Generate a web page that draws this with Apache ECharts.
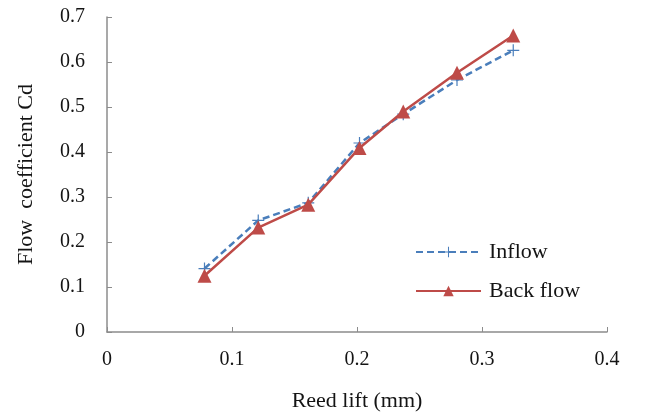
<!DOCTYPE html>
<html>
<head>
<meta charset="utf-8">
<script src="https://cdn.jsdelivr.net/npm/echarts@6/dist/echarts.min.js"></script>
<style>
  html, body { margin: 0; padding: 0; background: #fff; }
  #main { width: 646px; height: 417px; }
</style>
</head>
<body>
<div id="main"></div>
<script>
// reed lift (mm)
var reedLift = [0.078, 0.121, 0.161, 0.202, 0.237, 0.280, 0.325];
var inflowCd = [0.141, 0.248, 0.287, 0.420, 0.484, 0.560, 0.626];
var backflowCd = [0.125, 0.232, 0.283, 0.409, 0.490, 0.576, 0.659];
var xTicks = [0, 0.1, 0.2, 0.3, 0.4];
var yTicks = [0, 0.1, 0.2, 0.3, 0.4, 0.5, 0.6, 0.7];

function pairs(xs, ys) {
    var out = [];
    for (let i = 0; i < xs.length; i++) {
        out.push([xs[i], ys[i]]);
    }
    return out;
}

var plusPath = 'path://M9,0H11V9H20V11H11V20H9V11H0V9H9Z';
var font = 'Liberation Serif';
var axisColor = '#8c8c8c';
var textColor = '#141414';

var myChart = echarts.init(document.getElementById('main'));
var option = {
    animation: false,
    textStyle: { fontFamily: font },
    grid: { left: 107, right: 39, top: 17, bottom: 84 },
    legend: {
        orient: 'vertical',
        left: 415,
        top: 241,
        padding: 0,
        itemWidth: 65,
        itemHeight: 13,
        itemGap: 17,
        textStyle: { fontFamily: font, fontSize: 22, color: textColor, padding: [0, 0, 0, 3] },
        data: ['Inflow', 'Back flow']
    },
    xAxis: {
        type: 'value',
        min: xTicks[0],
        max: xTicks[xTicks.length - 1],
        interval: 0.1,
        name: 'Reed lift (mm)',
        nameLocation: 'middle',
        nameGap: 58,
        nameTextStyle: { fontFamily: font, fontSize: 22, color: textColor },
        splitLine: { show: false },
        axisLine: { lineStyle: { color: axisColor, width: 1.5 } },
        axisTick: { show: true, inside: true, length: 5, lineStyle: { color: axisColor } },
        axisLabel: { fontFamily: font, fontSize: 20, color: textColor, margin: 18,
            formatter: function (v) { return String(+v.toFixed(1)); } }
    },
    yAxis: {
        type: 'value',
        min: yTicks[0],
        max: yTicks[yTicks.length - 1],
        interval: 0.1,
        name: 'Flow  coefficient Cd',
        nameLocation: 'middle',
        nameGap: 70,
        nameTextStyle: { fontFamily: font, fontSize: 22, color: textColor },
        splitLine: { show: false },
        axisLine: { show: true, lineStyle: { color: axisColor, width: 1.5 } },
        axisTick: { show: true, inside: true, length: 5, lineStyle: { color: axisColor } },
        axisLabel: { fontFamily: font, fontSize: 20, color: textColor, margin: 22,
            formatter: function (v) { return String(+v.toFixed(1)); } }
    },
    series: [
        {
            name: 'Inflow',
            type: 'line',
            data: pairs(reedLift, inflowCd),
            symbol: plusPath,
            symbolSize: 12,
            itemStyle: { color: '#4a7ebb' },
            lineStyle: { color: '#4a7ebb', width: 2.5, type: [7, 4] },
            z: 2
        },
        {
            name: 'Back flow',
            type: 'line',
            data: pairs(reedLift, backflowCd),
            symbol: 'triangle',
            symbolSize: 14,
            itemStyle: { color: '#be4b48' },
            lineStyle: { color: '#be4b48', width: 2.5 },
            z: 3
        }
    ]
};
myChart.setOption(option);
</script>
</body>
</html>
